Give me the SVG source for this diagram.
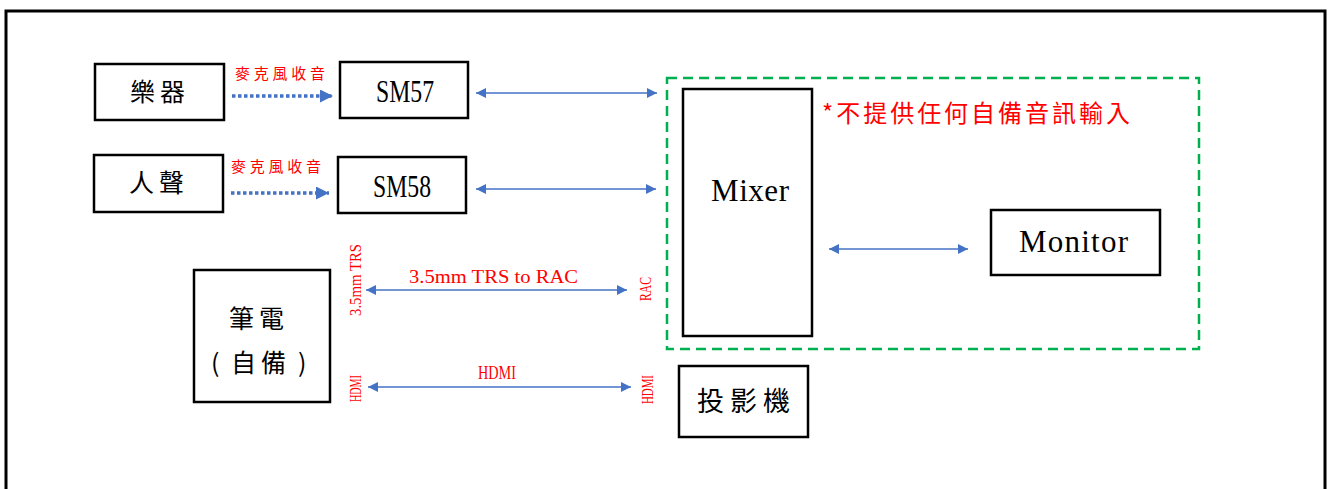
<svg xmlns="http://www.w3.org/2000/svg" width="1328" height="489" viewBox="0 0 1328 489">
<style>
.box{fill:#fff;stroke:#000;stroke-width:2.5}
.cjk{font-family:"Noto Sans CJK TC","Noto Sans CJK SC",sans-serif;fill:#000}
.lat{font-family:"Liberation Serif",serif;fill:#000}
.red{fill:#FF0000}
.ln{stroke:#4472C4;stroke-width:1.5;fill:none}
.dot{stroke:#4472C4;stroke-width:3.5;stroke-dasharray:3.5 2.5;fill:none}
</style>
<defs>
<marker id="ah" viewBox="0 0 10 10" refX="10" refY="5" markerWidth="10" markerHeight="10" markerUnits="userSpaceOnUse" orient="auto-start-reverse">
<path d="M0,0 L10,5 L0,10 z" fill="#4472C4"/>
</marker>
<marker id="ah2" viewBox="0 0 10 10" refX="10" refY="5" markerWidth="13" markerHeight="13" markerUnits="userSpaceOnUse" orient="auto">
<path d="M0,0 L10,5 L0,10 z" fill="#4472C4"/>
</marker>
</defs>
<rect x="0" y="0" width="1328" height="489" fill="#fff"/>
<path d="M6,495 L6,11 L1325,11 L1325,495" fill="none" stroke="#000" stroke-width="3"/>
<rect id="scope" x="667" y="78" width="532" height="271" fill="none" stroke="#00B050" stroke-width="2.5" stroke-dasharray="10 6"/>
<g id="connectors">
<line class="dot" x1="232" y1="96" x2="333" y2="96" marker-end="url(#ah2)"/>
<line class="dot" x1="231" y1="193" x2="329" y2="193" marker-end="url(#ah2)"/>
<line class="ln" x1="476" y1="93" x2="657" y2="93" marker-start="url(#ah)" marker-end="url(#ah)"/>
<line class="ln" x1="476" y1="189" x2="656" y2="189" marker-start="url(#ah)" marker-end="url(#ah)"/>
<line class="ln" x1="829" y1="249" x2="968" y2="249" marker-start="url(#ah)" marker-end="url(#ah)"/>
<line class="ln" x1="366" y1="290" x2="627" y2="290" marker-start="url(#ah)" marker-end="url(#ah)"/>
<line class="ln" x1="368" y1="387" x2="631" y2="387" marker-start="url(#ah)" marker-end="url(#ah)"/>
<text class="cjk red" x="235" y="79" font-size="15" textLength="90" lengthAdjust="spacing">麥克風收音</text>
<text class="cjk red" x="231" y="172" font-size="15" textLength="90" lengthAdjust="spacing">麥克風收音</text>
<text class="lat red" x="409" y="283" font-size="19" textLength="169" lengthAdjust="spacingAndGlyphs">3.5mm TRS to RAC</text>
<text class="lat red" x="478" y="379" font-size="19" textLength="38" lengthAdjust="spacingAndGlyphs">HDMI</text>
<text class="lat red" transform="translate(361,316) rotate(-90)" font-size="17" textLength="72" lengthAdjust="spacingAndGlyphs">3.5mm TRS</text>
<text class="lat red" transform="translate(651,301) rotate(-90)" font-size="17" textLength="24" lengthAdjust="spacingAndGlyphs">RAC</text>
<text class="lat red" transform="translate(361,402) rotate(-90)" font-size="16" textLength="27" lengthAdjust="spacingAndGlyphs">HDMI</text>
<text class="lat red" transform="translate(653,404) rotate(-90)" font-size="16" textLength="29" lengthAdjust="spacingAndGlyphs">HDMI</text>
</g>
<g id="instrument"><rect class="box" x="95" y="64" width="129" height="56"/><text class="cjk" x="160" y="101" font-size="25" text-anchor="middle" letter-spacing="5">樂器</text></g>
<g id="voice"><rect class="box" x="94" y="155" width="129" height="57"/><text class="cjk" x="159" y="192" font-size="25" text-anchor="middle" letter-spacing="5">人聲</text></g>
<g id="sm57"><rect class="box" x="340" y="62" width="128" height="56"/><text class="lat" x="376" y="102" font-size="31" textLength="58" lengthAdjust="spacingAndGlyphs">SM57</text></g>
<g id="sm58"><rect class="box" x="338" y="157" width="128" height="56"/><text class="lat" x="373" y="197" font-size="31" textLength="58" lengthAdjust="spacingAndGlyphs">SM58</text></g>
<g id="mixer"><rect class="box" x="683" y="89" width="129" height="247"/><text class="lat" x="711" y="201" font-size="31" textLength="78" lengthAdjust="spacing">Mixer</text></g>
<g id="monitor"><rect class="box" x="991" y="210" width="169" height="65"/><text class="lat" x="1019" y="252" font-size="31" textLength="109" lengthAdjust="spacing">Monitor</text></g>
<g id="note"><text class="cjk red" x="822" y="122" font-size="24" textLength="308" lengthAdjust="spacing">*不提供任何自備音訊輸入</text></g>
<g id="laptop"><rect class="box" x="194" y="270" width="136" height="132"/><text class="cjk" x="259" y="328" font-size="25" text-anchor="middle" letter-spacing="5">筆電</text><text class="cjk" y="372" font-size="25"><tspan x="211">(</tspan><tspan x="231">自</tspan><tspan x="261">備</tspan><tspan x="298">)</tspan></text></g>
<g id="projector"><rect class="box" x="679" y="366" width="129" height="71"/><text class="cjk" x="697" y="411" font-size="27" textLength="93" lengthAdjust="spacing">投影機</text></g>
</svg>
